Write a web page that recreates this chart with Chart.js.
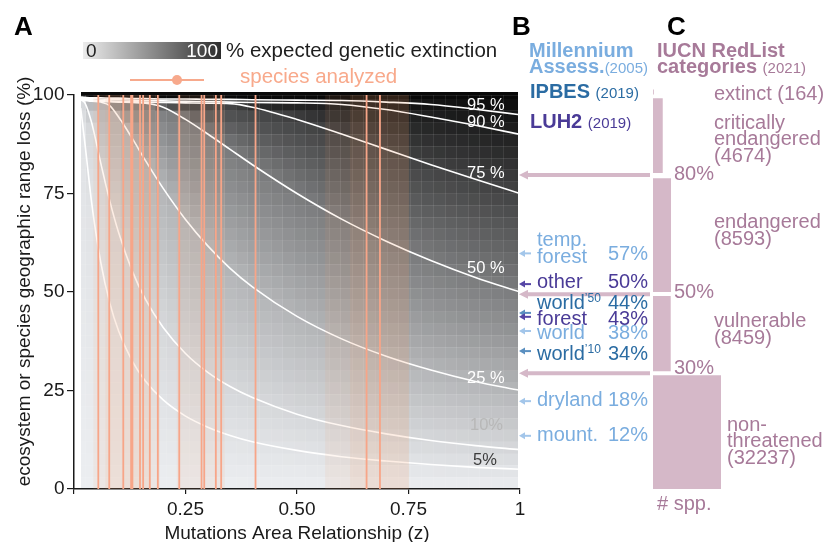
<!DOCTYPE html>
<html>
<head>
<meta charset="utf-8">
<script src="https://cdn.jsdelivr.net/npm/chart.js@4.4.1/dist/chart.umd.min.js"></script>
<style>
  body { margin:0; background:#fff; }
  #wrap { position:relative; width:829px; height:542px; overflow:hidden;
          font-family:"Liberation Sans", Arial, Helvetica, sans-serif; }
  #wrap canvas { position:absolute; top:0; }
  .t { position:absolute; white-space:nowrap; line-height:1; z-index:5; }
  .sm { font-size:15px; font-weight:normal; }
  .sup { font-size:12px; vertical-align:7px; line-height:0; }
</style>
</head>
<body>
<div id="wrap">
  <canvas id="main" width="829" height="542" style="left:0"></canvas>
  <canvas id="iucn" width="120" height="542" style="left:640px"></canvas>
  <div style="position:absolute;left:83px;top:42px;width:138px;height:17px;background:linear-gradient(90deg,#ececec,#2c2c2c)"></div>
  <div style="position:absolute;left:130px;top:79px;width:74px;height:2px;background:#f7a98c"></div>
  <div style="position:absolute;left:172px;top:75px;width:10px;height:10px;border-radius:50%;background:#f7a98c"></div>
</div>
<script>
// ── DATA ─────────────────────────────────────────────────
// z values where the contour curves were read off the picture
const zGrid = [0.015, 0.025, 0.04, 0.06, 0.08, 0.1, 0.13, 0.16, 0.2, 0.25, 0.3, 0.35, 0.4, 0.5, 0.6, 0.7, 0.8, 0.9, 1];
// range loss (%) along each genetic-extinction contour
const loss5  = [96.7, 87.2, 72.3, 57.5, 47.3, 40.1, 32.6, 27.4, 22.6, 18.5, 15.7, 13.6, 12.0, 9.8, 8.2, 7.1, 6.2, 5.5, 5.0];
const loss10 = [98.8, 97.9, 92.8, 82.7, 73.2, 65.1, 55.5, 48.2, 41.0, 34.4, 29.6, 26.0, 23.2, 19.0, 16.1, 14.0, 12.3, 11.0, 10.0];
const loss25 = [99.0, 98.6, 98.4, 98.2, 97.3, 94.4, 89.1, 83.4, 76.3, 68.4, 61.7, 56.0, 51.3, 43.8, 38.1, 33.7, 30.2, 27.3, 25.0];
const loss50 = [99.1, 98.8, 98.6, 98.4, 98.3, 98.2, 98.1, 97.9, 96.9, 93.8, 90.1, 86.2, 82.3, 75.0, 68.5, 62.9, 58.0, 53.7, 50.0];
const loss75 = [99.2, 99.0, 98.8, 98.6, 98.5, 98.4, 98.3, 98.2, 98.1, 98.0, 97.9, 97.8, 96.9, 93.8, 90.1, 86.2, 82.3, 78.6, 75.0];
const loss90 = [99.3, 99.2, 99.1, 99.0, 98.9, 98.8, 98.7, 98.6, 98.5, 98.4, 98.3, 98.2, 98.1, 98.0, 97.6, 96.3, 94.4, 92.3, 90.0];
const loss95 = [99.5, 99.4, 99.3, 99.3, 99.2, 99.2, 99.1, 99.1, 99.0, 99.0, 98.9, 98.9, 98.8, 98.7, 98.6, 98.2, 97.6, 96.4, 95.0];
const contourLevels = [5, 10, 25, 50, 75, 90, 95];

// species analyzed: z estimates and their ranges
const speciesZ = [0.0545, 0.079, 0.1105, 0.128, 0.131, 0.148, 0.155, 0.170, 0.188, 0.236, 0.286, 0.292, 0.318, 0.330, 0.407, 0.656, 0.686];
const speciesBandLo = [0.043, 0.07, 0.230, 0.563, 0.619];
const speciesBandHi = [0.193, 0.17, 0.339, 0.751, 0.751];

// panel B: where each estimate points on the y axis
const estimateY = [59.8, 52.0, 44.7, 43.7, 40.1, 35.0, 22.3, 13.5];
const estimateSrc = ['MA', 'LUH2', 'IPBES', 'LUH2', 'MA', 'IPBES', 'MA', 'MA'];

// panel C: IUCN RedList categories
const iucnCats   = ['extinct', 'critically endangered', 'endangered', 'vulnerable', 'non-threatened'];
const iucnCounts = [164, 4674, 8593, 8459, 32237];
const iucnLow    = [100.1, 80.2, 50.0, 29.9, 0];
const iucnHigh   = [101.4, 99.2, 78.9, 49.0, 28.9];
const iucnCuts   = [79.7, 49.4, 29.4];

// ── COLOURS ──────────────────────────────────────────────
const srcColor = { MA:'#7aaddf', IPBES:'#2b6ca3', LUH2:'#4a3b97' };
const arrowColor = { MA:'#a3c6ea', IPBES:'#5a8fc0', LUH2:'#5646a6' };
const MAUVE = '#a77a99';
const PINK = '#d5b8c8';
const ORANGE = '#f7a588';

Chart.defaults.font.family = '"Liberation Sans", Arial, Helvetica, sans-serif';
Chart.defaults.color = '#1a1a1a';

// linear read of a contour at z
function atZ(arr, z) {
  if (z <= zGrid[0]) return arr[0];
  for (let j = 1; j < zGrid.length; j++) {
    if (z <= zGrid[j]) {
      const t = (z - zGrid[j - 1]) / (zGrid[j] - zGrid[j - 1]);
      return arr[j - 1] + t * (arr[j] - arr[j - 1]);
    }
  }
  return arr[arr.length - 1];
}

const curves = [loss5, loss10, loss25, loss50, loss75, loss90, loss95];
const levels = [0, ...contourLevels, 100];

function levelAt(z, a) {
  const bounds = [0, ...curves.map(c => atZ(c, z)), 100];
  if (a >= 100) return 100;
  for (let k = 0; k < bounds.length - 1; k++) {
    if (a < bounds[k + 1]) {
      const t = (a - bounds[k]) / Math.max(bounds[k + 1] - bounds[k], 1e-6);
      return levels[k] + t * (levels[k + 1] - levels[k]);
    }
  }
  return 100;
}

function grey(L) {
  const v = 238 - 2.3 * L, t = 1 - L / 100;
  return `rgb(${Math.round(v - 2 * t)},${Math.round(v)},${Math.round(v + 3 * t)})`;
}

// ── HEATMAP: % expected genetic extinction, shaded from the contours ──
const cellZ = 0.026, cellA = 3, heatStart = 0.0157, heatEnd = 0.996;
const heatPlugin = {
  id: 'heat',
  beforeDraw(chart) {
    const { ctx, scales: { x, y } } = chart;
    const zEdges = [heatStart];
    for (let k = 1; k * cellZ < heatEnd; k++) zEdges.push(k * cellZ);
    zEdges.push(heatEnd);
    const aEdges = [0.3];
    for (let k = 1; k * cellA < 100; k++) aEdges.push(k * cellA);
    aEdges.push(100.7);
    ctx.save();
    for (let i = 0; i < zEdges.length - 1; i++) {
      const zc = (zEdges[i] + zEdges[i + 1]) / 2;
      const px0 = Math.round(x.getPixelForValue(zEdges[i]));
      const px1 = Math.round(x.getPixelForValue(zEdges[i + 1]));
      for (let j = 0; j < aEdges.length - 1; j++) {
        const ac = (aEdges[j] + aEdges[j + 1]) / 2;
        const py0 = Math.round(y.getPixelForValue(aEdges[j]));
        const py1 = Math.round(y.getPixelForValue(aEdges[j + 1]));
        ctx.fillStyle = grey(levelAt(zc, ac));
        ctx.fillRect(px0, py1, px1 - px0, py0 - py1);
      }
    }
    ctx.restore();
  }
};

// ── ARROWS for panels B and C ────────────────────────────
function arrow(ctx, tip, tail, yy, color, shaft, headLen, headHalf) {
  ctx.save();
  ctx.strokeStyle = color; ctx.fillStyle = color; ctx.lineWidth = shaft;
  ctx.beginPath(); ctx.moveTo(tip + headLen - 0.5, yy); ctx.lineTo(tail, yy); ctx.stroke();
  ctx.beginPath(); ctx.moveTo(tip, yy); ctx.lineTo(tip + headLen, yy - headHalf);
  ctx.lineTo(tip + headLen, yy + headHalf); ctx.closePath(); ctx.fill();
  ctx.restore();
}
const arrowPlugin = {
  id: 'sideArrows',
  afterDraw(chart) {
    const { ctx, scales: { y } } = chart;
    estimateY.forEach((v, i) => arrow(ctx, 519, 531, y.getPixelForValue(v), arrowColor[estimateSrc[i]], 2, 6, 3.5));
    iucnCuts.forEach(v => arrow(ctx, 519, 650, y.getPixelForValue(v), PINK, 4, 9, 4.5));
  }
};

// ── MAIN CHART (panel A) ─────────────────────────────────
const datasets = [];
datasets.push({
  data: speciesZ.flatMap(z => [{ x:z, y:0 }, { x:z, y:100 }, { x:z, y:null }]),
  borderColor: ORANGE, borderWidth: 1.8, pointRadius: 0, fill: false, spanGaps: false, order: 1
});
speciesBandLo.forEach((lo, i) => datasets.push({
  data: [{ x:lo, y:100 }, { x:speciesBandHi[i], y:100 }],
  borderWidth: 0, pointRadius: 0, fill: 'origin',
  backgroundColor: 'rgba(248,150,105,0.09)', order: 2
}));
curves.forEach(arr => datasets.push({
  data: zGrid.map((z, j) => ({ x:z, y:arr[j] })),
  borderColor: '#ffffff', borderWidth: 1.6, pointRadius: 0, fill: false,
  cubicInterpolationMode: 'monotone', order: 3
}));

const main = new Chart(document.getElementById('main'), {
  type: 'line',
  data: { datasets },
  options: {
    responsive: false,
    animation: false,
    events: [],
    layout: { padding: { left: 13.6, right: 309, top: 95, bottom: 0 } },
    plugins: { legend: { display: false }, tooltip: { enabled: false } },
    scales: {
      x: {
        type: 'linear', min: 0, max: 1, position: 'bottom',
        afterFit: s => { s.height = 53; },
        ticks: { stepSize: 0.25, padding: 4, font: { size: 19 }, maxRotation: 0, autoSkip: false,
                 callback: v => v === 0 ? '' : (v === 1 ? '1' : v.toFixed(2)) },
        grid: { drawOnChartArea: false, drawTicks: true, tickLength: 5, color: '#1a1a1a', lineWidth: 1.2 },
        border: { display: true, color: '#1a1a1a', width: 1.5 },
        title: { display: true, text: 'Mutations Area Relationship (z)', font: { size: 19, lineHeight: 1 },
                 padding: { top: 0, bottom: -1 } }
      },
      y: {
        type: 'linear', min: 0, max: 100, position: 'left',
        afterFit: s => { s.width = 60.4; },
        ticks: { stepSize: 25, padding: 2.5, font: { size: 19 } },
        grid: { drawOnChartArea: false, drawTicks: true, tickLength: 7, color: '#1a1a1a', lineWidth: 1.2 },
        border: { display: true, color: '#1a1a1a', width: 1.5 },
        title: { display: true, text: '    ecosystem or species geographic range loss (%)',
                 font: { size: 19 }, padding: { top: 0, bottom: 0 } }
      },
      // faint cell grid drawn over the heatmap
      x2: {
        type: 'linear', min: 0, max: 1, position: 'top', z: 1,
        afterFit: s => { s.height = 0; },
        ticks: { display: false, stepSize: cellZ },
        grid: { color: 'rgba(255,255,255,0.09)', drawTicks: false, lineWidth: 1 },
        border: { display: false }
      },
      y2: {
        type: 'linear', min: 0, max: 100, position: 'right', z: 1,
        afterFit: s => { s.width = 0; },
        ticks: { display: false, stepSize: cellA },
        grid: { color: 'rgba(255,255,255,0.09)', drawTicks: false, lineWidth: 1 },
        border: { display: false }
      }
    }
  },
  plugins: [heatPlugin, arrowPlugin]
});

// ── PANEL C: # species per IUCN category, on the same y scale ──
const ys = main.scales.y;
const y0px = ys.getPixelForValue(0);
const unit = (y0px - ys.getPixelForValue(100)) / 100;
const yMax2 = 102;
const iucnSets = iucnCounts.map((n, i) => i === 0
  ? { data: [{ x:n / 2, y:iucnLow[i] }, { x:n / 2, y:iucnHigh[i] }], borderColor: PINK, borderWidth: 1.3, pointRadius: 0, fill: false }
  : { data: [{ x:0, y:iucnHigh[i] }, { x:n, y:iucnHigh[i] }], borderWidth: 0, pointRadius: 0,
      fill: { value: iucnLow[i] }, backgroundColor: PINK });

new Chart(document.getElementById('iucn'), {
  type: 'line',
  data: { datasets: iucnSets },
  options: {
    responsive: false,
    animation: false,
    events: [],
    layout: { padding: { left: 13, right: 22.6, top: y0px - yMax2 * unit, bottom: 542 - y0px } },
    plugins: { legend: { display: false }, tooltip: { enabled: false } },
    scales: {
      x: { type: 'linear', display: false, min: 0, max: 40000 },
      y: { type: 'linear', display: false, min: 0, max: yMax2 }
    }
  }
});

// ── TEXT ─────────────────────────────────────────────────
const wrap = document.getElementById('wrap');
function put(html, x, base, size, color, opt = {}) {
  const d = document.createElement('div');
  d.className = 't';
  d.innerHTML = html;
  d.style.fontSize = size + 'px';
  d.style.color = color;
  d.style.top = (base - 0.8465 * size).toFixed(1) + 'px';
  if (opt.right) d.style.right = (829 - x) + 'px'; else d.style.left = x + 'px';
  if (opt.bold) d.style.fontWeight = 'bold';
  wrap.appendChild(d);
}

put('A', 14, 35, 26, '#000', { bold: true });
put('B', 512, 35, 26, '#000', { bold: true });
put('C', 667, 35, 26, '#000', { bold: true });

put('0', 86, 57, 19, '#222');
put('100', 218, 57, 19, '#fff', { right: true });
put('% expected genetic extinction', 226, 57, 20.5, '#1e1e1e');
put('species analyzed', 240, 83.3, 20.5, '#f8a98b');

// contour labels
put('95 %', 467, 110, 16.5, '#fff');
put('90 %', 467, 126.7, 16.5, '#fff');
put('75 %', 467, 178.3, 16.5, '#fff');
put('50 %', 467, 272.7, 16.5, '#fff');
put('25 %', 467, 383.3, 16.5, '#fff');
put('10%', 470, 430, 16.5, '#b8b8b8');
put('5%', 473, 465, 16.5, '#3c3c3c');

// panel B
put('Millennium', 529, 56.7, 20, srcColor.MA, { bold: true });
put('Assess.<span class="sm">(2005)</span>', 529, 73.3, 20, srcColor.MA, { bold: true });
put('IPBES <span class="sm">(2019)</span>', 530, 98.3, 20, srcColor.IPBES, { bold: true });
put('LUH2 <span class="sm">(2019)</span>', 530, 128.3, 20, srcColor.LUH2, { bold: true });

put('temp.', 537, 246, 20, srcColor.MA);
put('forest', 537, 263.3, 20, srcColor.MA);
put('57%', 648, 260, 20, srcColor.MA, { right: true });
put('other', 537, 288.3, 20, srcColor.LUH2);
put('50%', 648, 288.3, 20, srcColor.LUH2, { right: true });
put('world<span class="sup">’50</span>', 537, 309.3, 20, srcColor.IPBES);
put('44%', 648, 309.3, 20, srcColor.IPBES, { right: true });
put('forest', 537, 325.3, 20, srcColor.LUH2);
put('43%', 648, 325.3, 20, srcColor.LUH2, { right: true });
put('world', 537, 338.7, 20, srcColor.MA);
put('38%', 648, 338.7, 20, srcColor.MA, { right: true });
put('world<span class="sup">’10</span>', 537, 360, 20, srcColor.IPBES);
put('34%', 648, 360, 20, srcColor.IPBES, { right: true });
put('dryland', 537, 405.7, 20, srcColor.MA);
put('18%', 648, 405.7, 20, srcColor.MA, { right: true });
put('mount.', 537, 441, 20, srcColor.MA);
put('12%', 648, 441, 20, srcColor.MA, { right: true });

// panel C
put('IUCN RedList', 657, 56.7, 20, MAUVE, { bold: true });
put('categories <span class="sm">(2021)</span>', 657, 73.3, 20, MAUVE, { bold: true });
put('extinct (164)', 714, 100, 20, MAUVE);
put('critically', 714, 129.3, 20, MAUVE);
put('endangered', 714, 145, 20, MAUVE);
put('(4674)', 714, 161.7, 20, MAUVE);
put('80%', 674, 180, 20, MAUVE);
put('endangered', 714, 228.3, 20, MAUVE);
put('(8593)', 714, 245, 20, MAUVE);
put('50%', 674, 298.3, 20, MAUVE);
put('vulnerable', 714, 327.3, 20, MAUVE);
put('(8459)', 714, 344, 20, MAUVE);
put('30%', 674, 374, 20, MAUVE);
put('non-', 727, 430.7, 20, MAUVE);
put('threatened', 727, 446.7, 20, MAUVE);
put('(32237)', 727, 464, 20, MAUVE);
put('# spp.', 657, 510, 20, MAUVE);
</script>
</body>
</html>
